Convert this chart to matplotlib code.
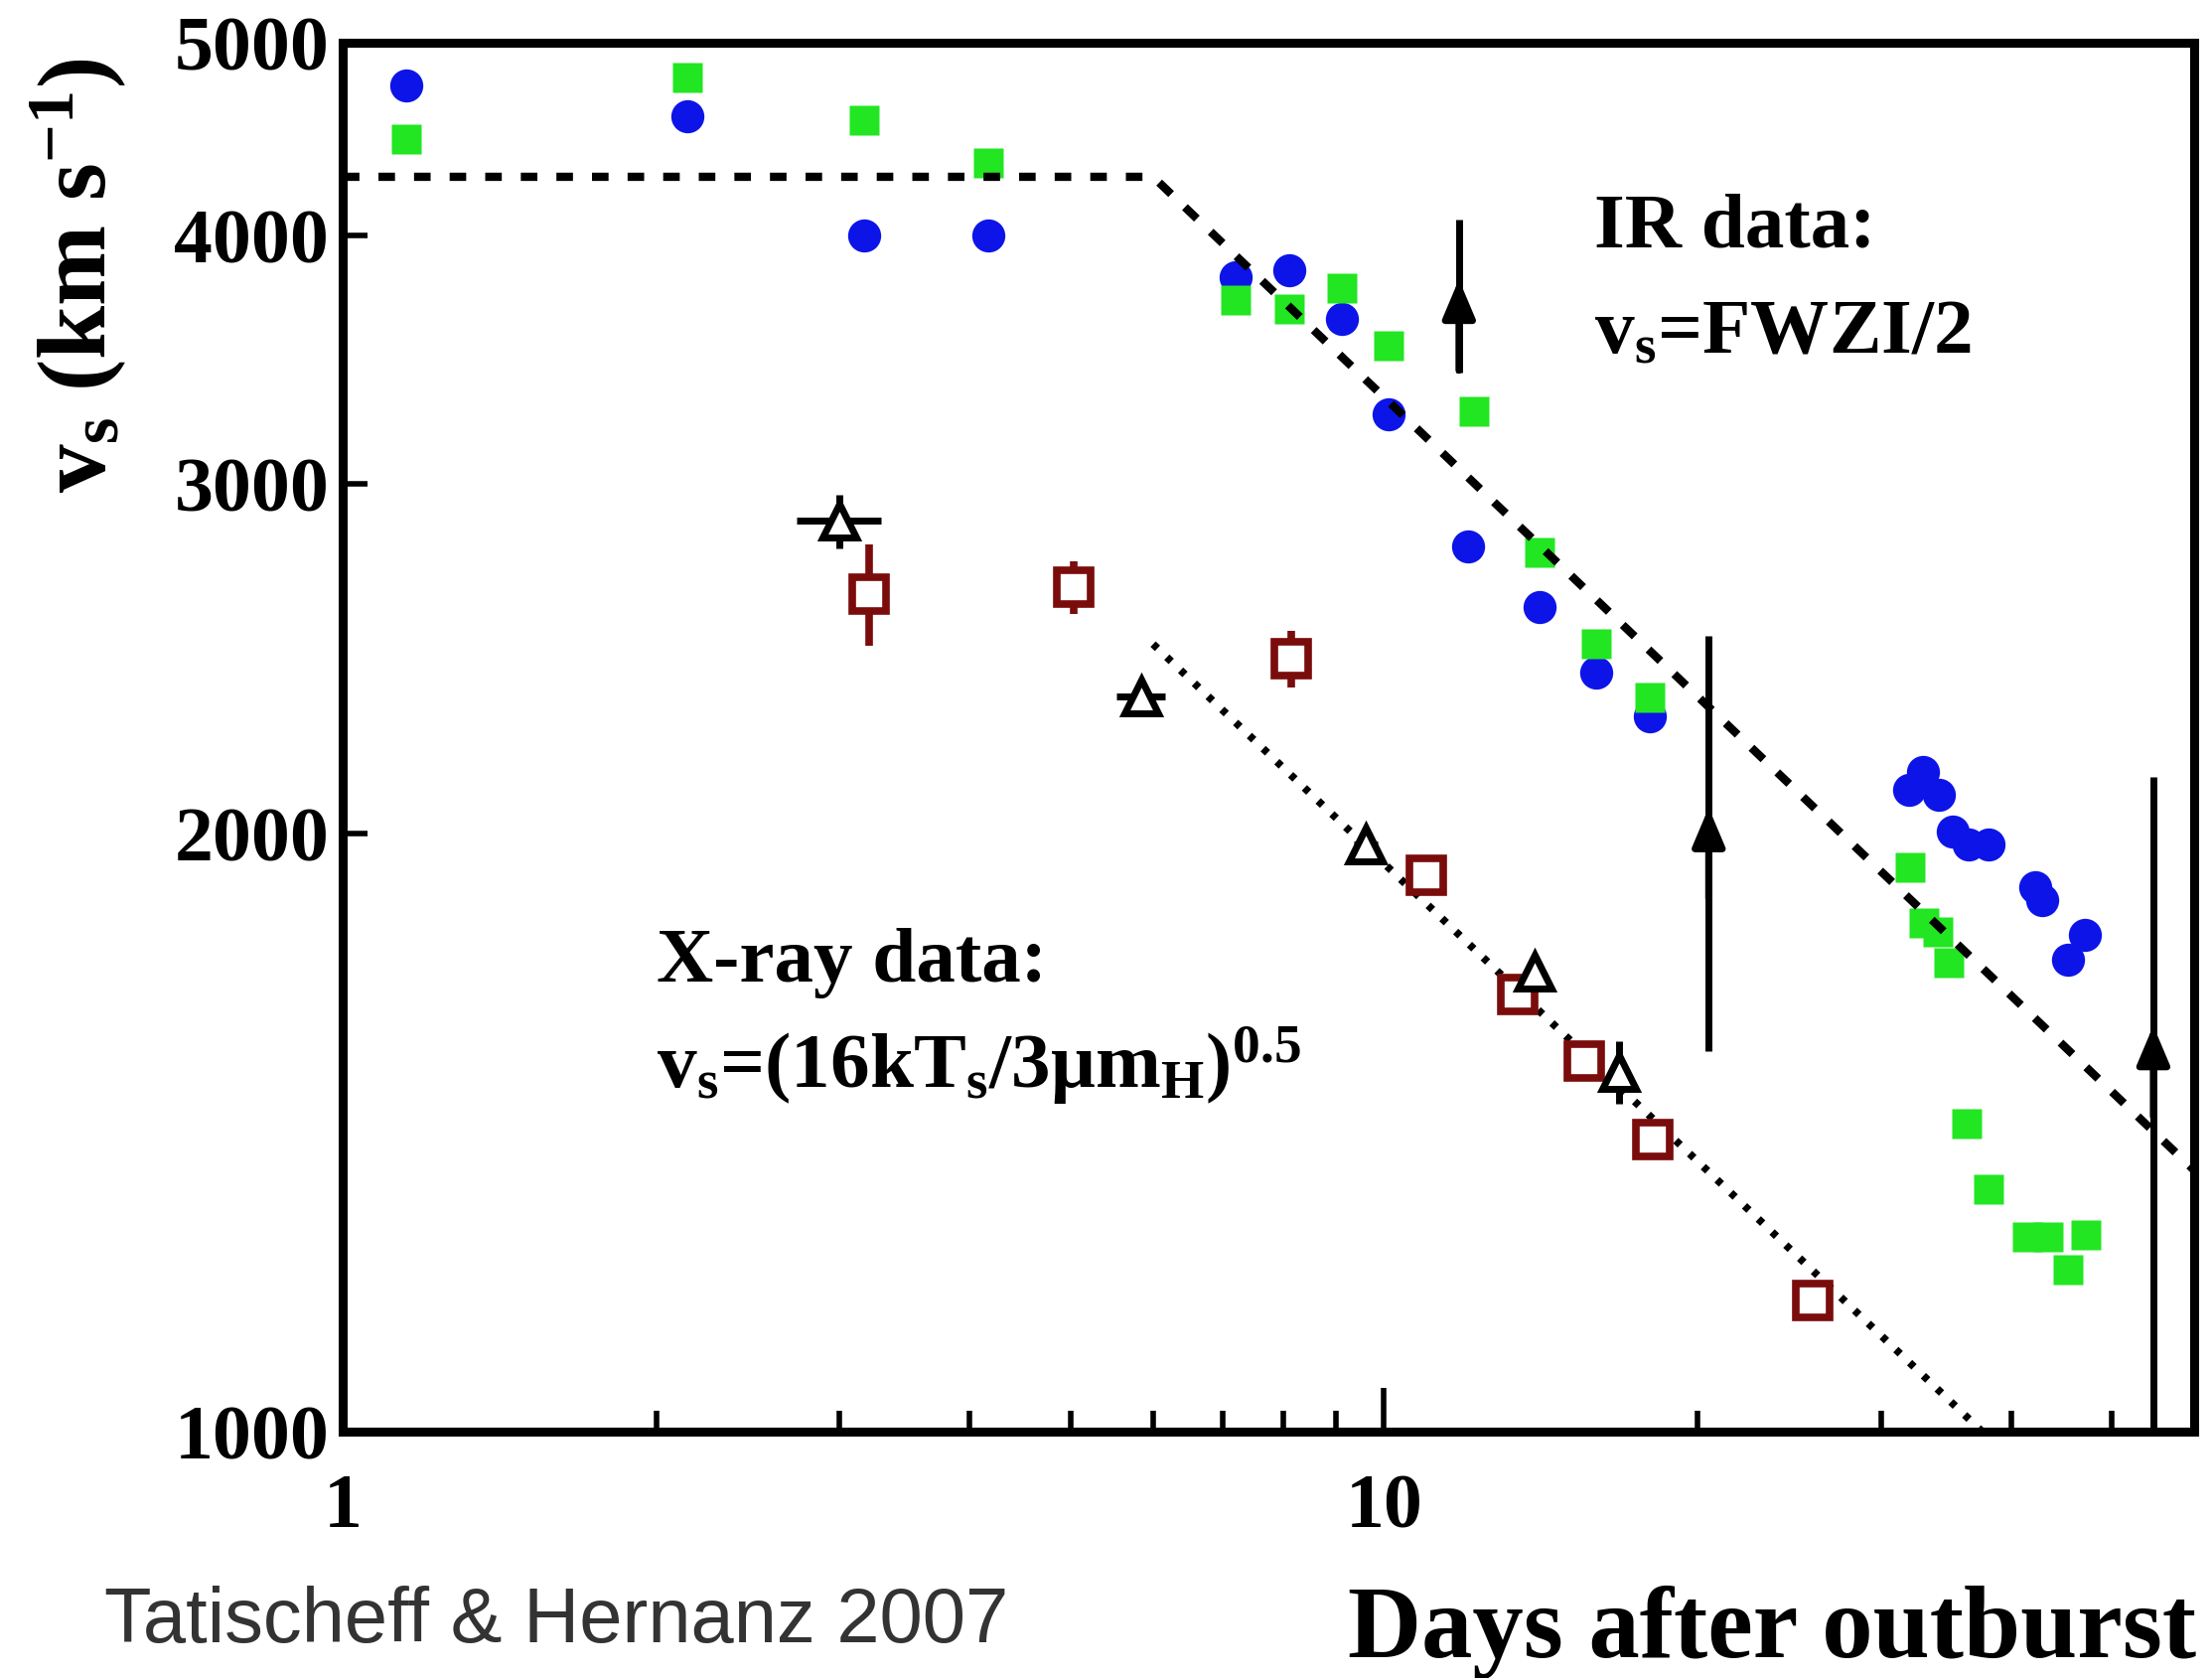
import numpy as np
import matplotlib
matplotlib.use("Agg")
import matplotlib.pyplot as plt

# IR data: v_s = FWZI/2
ir_blue_days = [1.15, 2.14, 3.17, 4.17, 7.2, 8.1, 9.1, 10.1, 12.05, 14.1, 16.0, 18.0,
                32.9, 31.9, 34.1, 35.2, 36.4, 38.1, 42.2, 42.9, 47.1, 45.4]
ir_blue_vs = [4760, 4590, 4000, 4000, 3810, 3840, 3630, 3250, 2790, 2600, 2410, 2290,
              2148, 2103, 2092, 2003, 1974, 1974, 1878, 1851, 1777, 1727]

ir_green_days = [1.15, 2.14, 3.17, 4.17, 7.2, 8.1, 9.1, 10.1, 12.2, 14.1, 16.0, 18.0,
                 32.0, 33.0, 34.0, 34.9, 36.3, 38.1, 41.5, 43.4, 47.2, 45.4]
ir_green_vs = [4470, 4800, 4570, 4350, 3710, 3670, 3760, 3520, 3260, 2770, 2490, 2340,
               1923, 1802, 1784, 1722, 1429, 1324, 1252, 1252, 1256, 1206]

# X-ray data: v_s = (16kT_s/3 mu m_H)^0.5
xr_tri_days = [3.0, 5.84, 9.6, 13.95, 16.8]
xr_tri_vs = [2872, 2343, 1974, 1704, 1516]
xr_tri_xerr_lo = [0.27, 0.31, 0.25, 0.0, 0.0]
xr_tri_xerr_hi = [0.29, 0.32, 0.25, 0.0, 0.0]
xr_tri_yerr = [90, 30, 30, 0, 55]

xr_sq_days = [3.20, 5.03, 8.14, 10.98, 13.43, 15.56, 18.1, 25.8]
xr_sq_vs = [2639, 2660, 2448, 1905, 1658, 1536, 1402, 1164]
xr_sq_yerr = [155, 80, 80, 0, 0, 0, 0, 0]

# fits
ir_fit_days = [1.0, 6.0, 60.0]
ir_fit_vs = [4280, 4280, 1353]
xr_fit_days = [6.0, 37.5]
xr_fit_vs = [2490, 1000]

# lower-limit arrows: x, bottom, top, arrow tip
arrow_days = [11.8, 20.5, 54.8]
arrow_lo = [3410, 1553, 1000]
arrow_hi = [4073, 2513, 2135]
arrow_tip = [3800, 2060, 1600]

plt.rcParams['font.family'] = ['Liberation Serif', 'DejaVu Serif']
plt.rcParams['font.weight'] = 'bold'
plt.rcParams['mathtext.fontset'] = 'custom'
plt.rcParams['mathtext.rm'] = 'Liberation Serif:bold'
plt.rcParams['mathtext.it'] = 'Liberation Serif:bold'
plt.rcParams['mathtext.bf'] = 'Liberation Serif:bold'

fig = plt.figure(figsize=(22.27, 16.90), dpi=100)
ax = fig.add_axes([0.155, 0.147, 0.837, 0.827])
ax.set_xscale('log')
ax.set_yscale('log')

blue = '#0d14e8'
green = '#22e622'
maroon = '#7a0c0c'

ax.plot(ir_blue_days, ir_blue_vs, 'o', color=blue, ms=24, mec='none', zorder=3)
ax.plot(ir_green_days, ir_green_vs, 's', color=green, ms=22, mec='none', zorder=4)

# fit lines
ax.plot(ir_fit_days, ir_fit_vs, color='k', lw=6, dashes=(2.0, 2.3), zorder=6)
ax.plot(xr_fit_days, xr_fit_vs, color='k', lw=5.5, dashes=(0.8, 1.7), zorder=2)

# x-ray points
ax.errorbar(xr_sq_days, xr_sq_vs, yerr=xr_sq_yerr, fmt='s', color=maroon,
            ms=25, mfc='white', mec=maroon, mew=5.5, elinewidth=5.5, capsize=0, zorder=5)
ax.errorbar(xr_tri_days, xr_tri_vs, yerr=xr_tri_yerr,
            xerr=[xr_tri_xerr_lo, xr_tri_xerr_hi], fmt='^', color='k',
            ms=25, mfc='white', mec='k', mew=5, elinewidth=5, capsize=0, zorder=5)

# arrows
for x, lo, hi, tip in zip(arrow_days, arrow_lo, arrow_hi, arrow_tip):
    ax.vlines(x, lo, hi, color='k', lw=5, zorder=6)
    ax.annotate('', xy=(x, tip), xytext=(x, tip * 0.9),
                arrowprops=dict(arrowstyle='-|>,head_length=0.45,head_width=0.19',
                                color='k', lw=5, mutation_scale=52,
                                shrinkA=0, shrinkB=0), zorder=7)

ax.set_xlim(1, 60)
ax.set_ylim(1000, 5000)

ax.set_xticks([1, 10])
ax.set_xticklabels(['1', '10'])
ax.set_xticks([2, 3, 4, 5, 6, 7, 8, 9, 20, 30, 40, 50], minor=True)
ax.xaxis.set_minor_formatter(matplotlib.ticker.NullFormatter())
ax.set_yticks([1000, 2000, 3000, 4000, 5000])
ax.set_yticklabels(['1000', '2000', '3000', '4000', '5000'])
ax.yaxis.set_minor_locator(matplotlib.ticker.NullLocator())

ax.tick_params(axis='x', which='major', direction='in', length=32, width=4,
               pad=30, labelsize=56)
ax.tick_params(axis='x', which='minor', direction='in', length=15, width=4)
ax.tick_params(axis='y', which='major', direction='in', length=18, width=4,
               pad=10, labelsize=56)
for sp in ax.spines.values():
    sp.set_linewidth(6.5)

ax.text(15.9, 3950, 'IR data:', fontsize=57, fontweight='bold')
ax.text(15.9, 3490, r'v$_\mathrm{s}$=FWZI/2', fontsize=57, fontweight='bold')
ax.text(2.0, 1685, 'X-ray data:', fontsize=57, fontweight='bold')
ax.text(2.0, 1490, r'v$_\mathrm{s}$=(16kT$_\mathrm{s}$/3μm$_\mathrm{H}$)$^\mathrm{0.5}$',
        fontsize=57, fontweight='bold')

fig.text(0.035, 0.836, r'v$_\mathrm{s}$ (km s$^\mathrm{-1}$)', rotation=90,
         ha='center', va='center', fontsize=70, fontweight='bold')
fig.text(0.993, 0.013, 'Days after outburst', ha='right', va='baseline',
         fontsize=74, fontweight='bold')
fig.text(0.047, 0.022, 'Tatischeff & Hernanz 2007', ha='left', va='baseline',
         fontsize=56, fontweight='normal', color='#333333',
         family=['Liberation Sans', 'DejaVu Sans'])

fig.savefig('out.png', dpi=100)
